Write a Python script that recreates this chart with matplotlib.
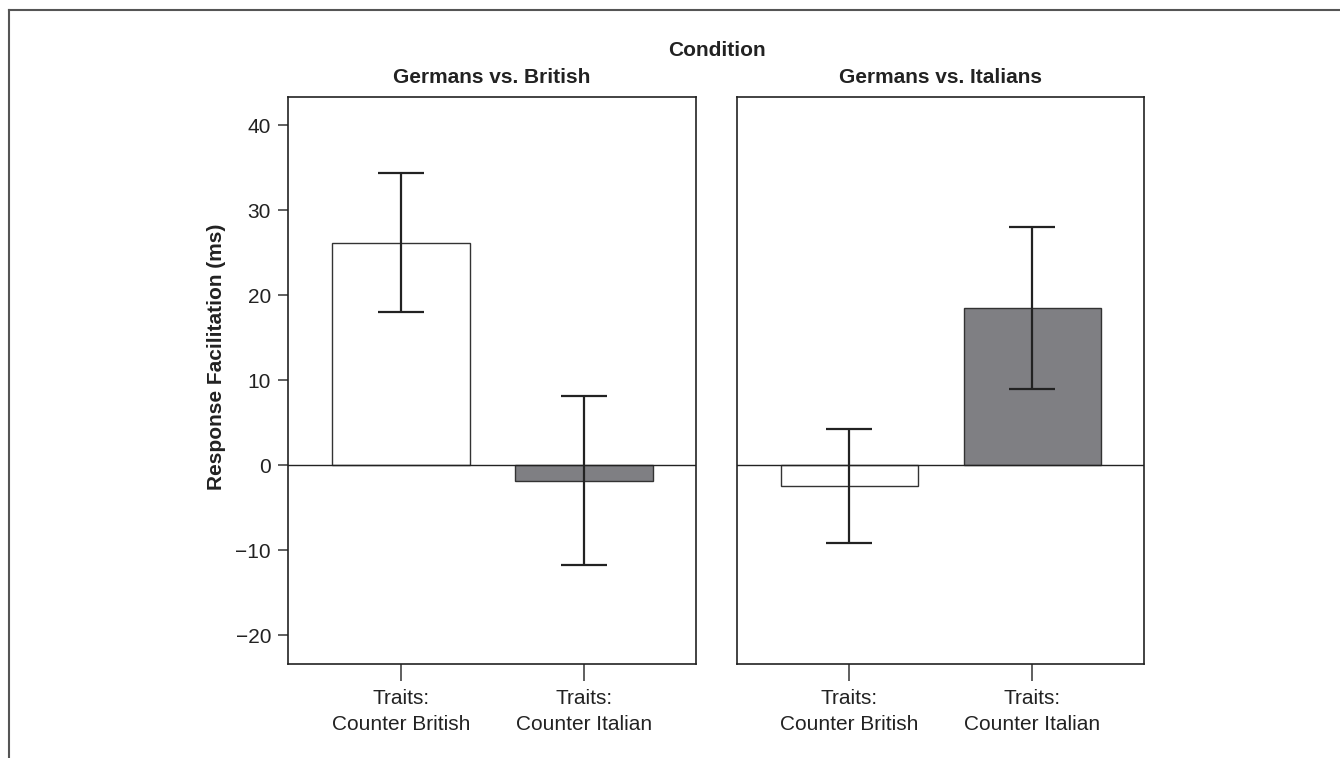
import matplotlib
matplotlib.use('Agg')
import matplotlib.pyplot as plt
from matplotlib.lines import Line2D

plt.rcParams['font.family'] = ['Liberation Sans', 'DejaVu Sans']
plt.rcParams['font.size'] = 15

conditions = ['Germans vs. British', 'Germans vs. Italians']
categories = ['Traits:\nCounter British', 'Traits:\nCounter Italian']
means = {
    'Germans vs. British': [26.15, -1.85],
    'Germans vs. Italians': [-2.5, 18.45],
}
errors = {
    'Germans vs. British': [8.2, 9.95],
    'Germans vs. Italians': [6.7, 9.5],
}
bar_colors = ['white', '#7f7f83']
yticks = [-20, -10, 0, 10, 20, 30, 40]

ink = '#222222'
fig = plt.figure(figsize=(13.4, 7.58), dpi=100)
W, H = 1340, 758

def px_axes(x0, x1, y0, y1):
    return fig.add_axes([x0 / W, 1 - y1 / H, (x1 - x0) / W, (y1 - y0) / H])

axes = [px_axes(288, 696, 97, 664), px_axes(737, 1144, 97, 664)]

for i, (ax, cond) in enumerate(zip(axes, conditions)):
    xs = range(len(categories))
    ax.bar(xs, means[cond], width=0.75, color=bar_colors,
           edgecolor='#333333', linewidth=1.0, zorder=2)
    ax.errorbar(xs, means[cond], yerr=errors[cond], fmt='none',
                ecolor=ink, elinewidth=1.6, capsize=16.6, capthick=1.6, zorder=3)
    ax.axhline(0, color=ink, linewidth=1.0, zorder=4)
    ax.set_xlim(-0.615, 1.61)
    ax.set_ylim(-23.4, 43.3)
    ax.set_xticks(list(xs))
    ax.set_xticklabels(categories, color=ink, linespacing=1.45)
    ax.tick_params(axis='x', length=12, width=1.2, color='#444444', pad=6)
    for s in ax.spines.values():
        s.set_color(ink)
        s.set_linewidth(1.2)
    ax.set_title(cond, fontweight='bold', fontsize=15, color=ink, pad=10)
    if i == 0:
        ax.set_yticks(yticks)
        ax.set_yticklabels([str(v).replace('-', '\u2212') for v in yticks], color=ink)
        ax.tick_params(axis='y', length=7.2, width=1.2, color='#444444', pad=5)
    else:
        ax.set_yticks([])

fig.text(716.7 / W, 1 - 51 / H, 'Condition', ha='center', va='center',
         fontweight='bold', fontsize=15, color=ink)
fig.text(217 / W, 1 - 357 / H, 'Response Facilitation (ms)', rotation=90,
         ha='center', va='center', fontweight='bold', fontsize=15, color=ink)

# open frame along the top and left edge
fig.add_artist(Line2D([9 / W, 1.0], [1 - 10 / H, 1 - 10 / H],
                      transform=fig.transFigure, color='#555555', linewidth=1.5))
fig.add_artist(Line2D([9 / W, 9 / W], [0.0, 1 - 10 / H],
                      transform=fig.transFigure, color='#555555', linewidth=1.5))

fig.savefig('out.png', dpi=100, facecolor='white')
